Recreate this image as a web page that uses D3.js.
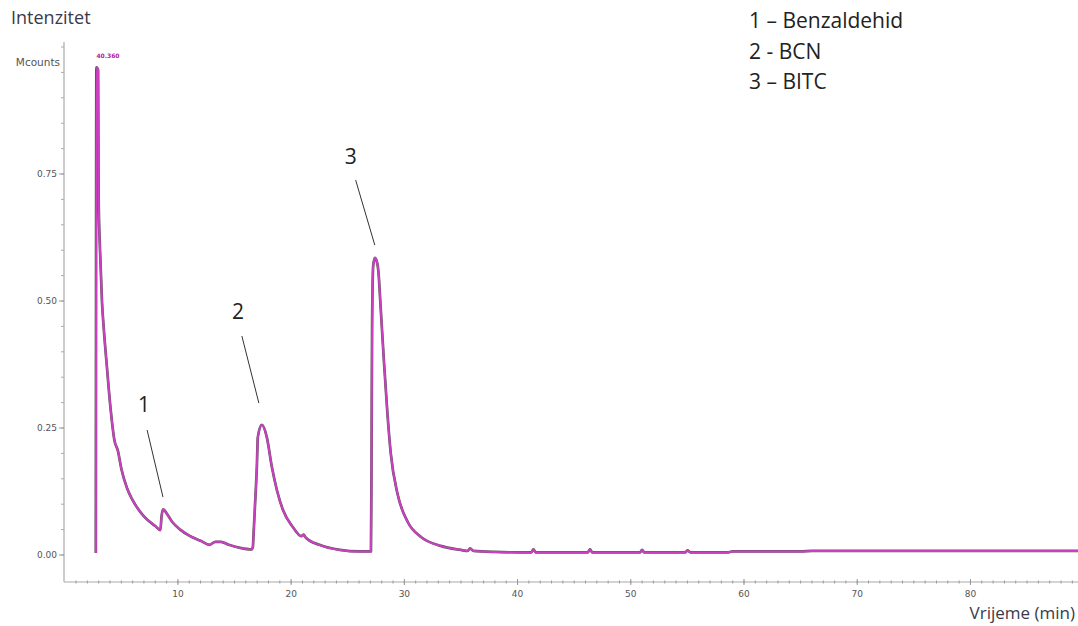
<!DOCTYPE html>
<html><head><meta charset="utf-8">
<script src="https://cdn.jsdelivr.net/npm/d3@7"></script>
<style>
html,body{margin:0;padding:0;background:#fff;}
svg{display:block;}
</style></head>
<body>
<svg id="chart" width="1078" height="626"></svg>
<script>
// ---- data ----
const times = [2.75, 2.8, 2.95, 3.0, 3.12, 3.29, 3.47, 3.73, 4.0, 4.4, 4.7, 5.0, 5.5, 6.0, 7.0, 8.0, 8.45, 8.55, 8.7, 9.0, 9.5, 10.2, 11.0, 12.0, 12.8, 13.3, 13.8, 14.5, 15.5, 16.5, 16.62, 16.68, 16.8, 16.97, 17.06, 17.41, 17.85, 18.3, 18.74, 19.27, 20.15, 20.9, 21.1, 21.3, 22.5, 24.3, 26.07, 27.05, 27.1, 27.15, 27.25, 27.4, 27.6, 27.7, 27.9, 28.2, 28.5, 28.8, 29.4, 30.3, 31.5, 33.2, 35.0, 35.6, 35.8, 36.1, 38.0, 41.2, 41.4, 41.6, 46.2, 46.4, 46.6, 50.8, 51.0, 51.2, 54.8, 55.0, 55.3, 58.5, 59.0, 65.0, 66.0, 72.0, 74.0, 80.0, 89.5];
const intensity = [0.004, 0.96, 0.955, 0.70, 0.60, 0.50, 0.44, 0.37, 0.30, 0.225, 0.205, 0.17, 0.132, 0.108, 0.076, 0.057, 0.049, 0.075, 0.09, 0.082, 0.065, 0.05, 0.038, 0.028, 0.02, 0.026, 0.026, 0.02, 0.014, 0.011, 0.016, 0.04, 0.094, 0.173, 0.232, 0.256, 0.232, 0.173, 0.128, 0.089, 0.055, 0.037, 0.04, 0.034, 0.02, 0.01, 0.007, 0.007, 0.18, 0.45, 0.57, 0.585, 0.575, 0.56, 0.49, 0.38, 0.28, 0.20, 0.12, 0.065, 0.035, 0.018, 0.01, 0.008, 0.013, 0.008, 0.006, 0.005, 0.011, 0.005, 0.005, 0.011, 0.005, 0.005, 0.010, 0.005, 0.005, 0.009, 0.005, 0.005, 0.007, 0.007, 0.008, 0.008, 0.008, 0.008, 0.008];
const yTickValues = [0.00, 0.25, 0.50, 0.75];
const yTickLabels = ["0.00", "0.25", "0.50", "0.75"];
const xTickValues = [10, 20, 30, 40, 50, 60, 70, 80];
const peakLabels = ["1", "2", "3"];
const peakLabelT = [7.0, 15.3, 25.27];
const peakLabelV = [0.295, 0.48, 0.785];
const peakLineT0 = [7.28, 15.65, 25.7];
const peakLineV0 = [0.246, 0.431, 0.738];
const peakLineT1 = [8.68, 17.15, 27.39];
const peakLineV1 = [0.114, 0.299, 0.61];
const legendLines = ["1 \u2013 Benzaldehid", "2 - BCN", "3 \u2013 BITC"];
const yAxisTitle = "Intenzitet";
const yUnit = "Mcounts";
const xAxisTitle = "Vrijeme (min)";
const topMarker = "40.360";

// ---- layout ----
const svg = d3.select("#chart");
const x = d3.scaleLinear().domain([0, 89.5]).range([64.7, 1078]);
const y = d3.scaleLinear().domain([0, 1]).range([555, 47]);
const axisLeftX = 64;
const axisBottomY = 582;
const tickFont = "DejaVu Sans, Verdana, sans-serif";
const textFont = "Open Sans, sans-serif";

// y axis line & ticks
const yAxisG = svg.append("g").attr("transform", `translate(${axisLeftX},0)`);
yAxisG.append("line").attr("x1", 0).attr("x2", 0).attr("y1", 42).attr("y2", axisBottomY)
  .attr("stroke", "#aaa").attr("stroke-width", 1.2);
const yMinor = d3.range(0, 1.0001, 0.05);
yAxisG.selectAll("line.minor").data(yMinor).join("line").attr("class", "minor")
  .attr("x1", -3).attr("x2", 0).attr("y1", d => y(d)).attr("y2", d => y(d))
  .attr("stroke", "#aaa").attr("stroke-width", 1);
yAxisG.selectAll("line.major").data(yTickValues).join("line").attr("class", "major")
  .attr("x1", -5).attr("x2", 0).attr("y1", d => y(d)).attr("y2", d => y(d))
  .attr("stroke", "#999").attr("stroke-width", 1);
yAxisG.selectAll("text.tl").data(yTickValues).join("text").attr("class", "tl")
  .attr("x", -7).attr("y", d => y(d)).attr("dy", "0.35em").attr("text-anchor", "end")
  .attr("font-family", tickFont).attr("font-size", 9)
  .attr("fill", "#555").text((d, i) => yTickLabels[i]);
svg.append("text").attr("x", 60).attr("y", 62).attr("dy", "0.35em").attr("text-anchor", "end")
  .attr("font-family", tickFont).attr("font-size", 10.5)
  .attr("fill", "#555").text(yUnit);

// x axis
const xAxisG = svg.append("g").attr("transform", `translate(0,${axisBottomY})`);
xAxisG.append("line").attr("x1", axisLeftX).attr("x2", 1078).attr("y1", 0).attr("y2", 0)
  .attr("stroke", "#aaa").attr("stroke-width", 1.2);
const xMinor = d3.range(1, 90, 1);
xAxisG.selectAll("line.minor").data(xMinor).join("line").attr("class", "minor")
  .attr("x1", d => x(d)).attr("x2", d => x(d)).attr("y1", -1.5).attr("y2", 1.5)
  .attr("stroke", "#999").attr("stroke-width", 1);
xAxisG.selectAll("line.major").data(xTickValues).join("line").attr("class", "major")
  .attr("x1", d => x(d)).attr("x2", d => x(d)).attr("y1", -3).attr("y2", 3)
  .attr("stroke", "#999").attr("stroke-width", 1);
xAxisG.selectAll("text.tl").data(xTickValues).join("text").attr("class", "tl")
  .attr("x", d => x(d)).attr("y", 15).attr("text-anchor", "middle")
  .attr("font-family", tickFont).attr("font-size", 9)
  .attr("fill", "#555").text(d => d);

// titles
svg.append("text").attr("x", 11).attr("y", 24)
  .attr("font-family", textFont).attr("font-size", 18)
  .attr("fill", "#3a3a4a").text(yAxisTitle);
svg.append("text").attr("x", 1075).attr("y", 619).attr("text-anchor", "end")
  .attr("font-family", textFont).attr("font-size", 17)
  .attr("fill", "#3a3a4a").text(xAxisTitle);

// trace
const pts = times.map((t, i) => [t, intensity[i]]);
const line = d3.line().x(d => x(d[0])).y(d => y(d[1])).curve(d3.curveMonotoneX);
svg.append("path").datum(pts).attr("d", line).attr("fill", "none")
  .attr("stroke", "#222").attr("stroke-opacity", 0.75).attr("stroke-width", 2.7).attr("stroke-linejoin", "round");
svg.append("path").datum(pts).attr("d", line).attr("fill", "none")
  .attr("stroke", "#cc3fc0").attr("stroke-width", 2).attr("stroke-linejoin", "round");

svg.append("text").attr("x", x(2.8)).attr("y", 58)
  .attr("font-family", tickFont).attr("font-size", 6).attr("font-weight", "bold")
  .attr("fill", "#b0209a").text(topMarker);

// peak annotations
svg.selectAll("line.ann").data(peakLabels).join("line").attr("class", "ann")
  .attr("x1", (d, i) => x(peakLineT0[i])).attr("y1", (d, i) => y(peakLineV0[i]))
  .attr("x2", (d, i) => x(peakLineT1[i])).attr("y2", (d, i) => y(peakLineV1[i]))
  .attr("stroke", "#333").attr("stroke-width", 1);
svg.selectAll("text.ann").data(peakLabels).join("text").attr("class", "ann")
  .attr("x", (d, i) => x(peakLabelT[i])).attr("y", (d, i) => y(peakLabelV[i]))
  .attr("dy", "0.35em").attr("text-anchor", "middle")
  .attr("font-family", textFont).attr("font-size", 21)
  .attr("fill", "#222").text(d => d);

// legend
svg.selectAll("text.leg").data(legendLines).join("text").attr("class", "leg")
  .attr("x", 749).attr("y", (d, i) => 21 + i * 30.5).attr("dy", "0.35em")
  .attr("font-family", textFont).attr("font-size", 21)
  .attr("fill", "#222").text(d => d);
</script>
</body></html>
